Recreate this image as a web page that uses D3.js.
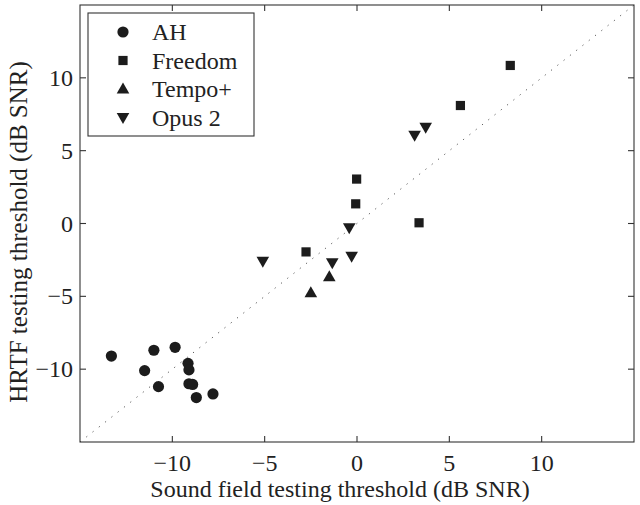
<!DOCTYPE html>
<html><head><meta charset="utf-8">
<script src="https://cdn.jsdelivr.net/npm/d3@7"></script>
<style>body{margin:0;background:#fff}svg{display:block}text{font-family:"Liberation Serif","Times New Roman",serif;fill:#222}</style>
</head><body><svg id="c" width="640" height="505"></svg>
<script>
const xTicks=[-10,-5,0,5,10];
const yTicks=[-10,-5,0,5,10];
const xDomain=[-15,15], yDomain=[-15,15];
const seriesNames=["AH","Freedom","Tempo+","Opus 2"];
const seriesShapes=["circle","square","up","down"];
const ahX=[-13.3,-11.0,-9.85,-11.5,-9.15,-9.1,-10.75,-9.1,-8.9,-8.7,-7.8];
const ahY=[-9.1,-8.7,-8.5,-10.1,-9.6,-10.05,-11.2,-11.0,-11.05,-11.95,-11.7];
const freedomX=[-0.02,-0.07,3.36,-2.76,8.3,5.6];
const freedomY=[3.05,1.35,0.05,-1.95,10.85,8.1];
const tempoX=[-1.5,-2.5];
const tempoY=[-3.65,-4.75];
const opusX=[-5.1,-0.42,-1.34,-0.29,3.12,3.72];
const opusY=[-2.6,-0.3,-2.7,-2.25,6.05,6.6];
const seriesX=[ahX,freedomX,tempoX,opusX];
const seriesY=[ahY,freedomY,tempoY,opusY];

const svg=d3.select("#c");
const L=80,R=634,T=5,B=442;
const x=d3.scaleLinear().domain(xDomain).range([L,R]);
const y=d3.scaleLinear().domain(yDomain).range([B,T]);
const ink="#1c1c1c";

svg.append("line").attr("x1",x(xDomain[0])).attr("y1",y(yDomain[0])).attr("x2",x(xDomain[1])).attr("y2",y(yDomain[1]))
  .attr("stroke","#555").attr("stroke-width",1).attr("stroke-dasharray","1.2,6.8");

const ax=svg.append("g").attr("stroke","#333").attr("stroke-width",1.1).attr("fill","none");
ax.append("rect").attr("x",L).attr("y",T).attr("width",R-L).attr("height",B-T);
xTicks.forEach(t=>{
  ax.append("line").attr("x1",x(t)).attr("x2",x(t)).attr("y1",B).attr("y2",B-6);
  ax.append("line").attr("x1",x(t)).attr("x2",x(t)).attr("y1",T).attr("y2",T+6);
});
yTicks.forEach(t=>{
  ax.append("line").attr("y1",y(t)).attr("y2",y(t)).attr("x1",L).attr("x2",L+6);
  ax.append("line").attr("y1",y(t)).attr("y2",y(t)).attr("x1",R).attr("x2",R-6);
});
const fmt=v=>v<0?"\u2212"+Math.abs(v):String(v);
svg.selectAll(".xt").data(xTicks).enter().append("text").attr("x",d=>x(d)).attr("y",471)
  .attr("text-anchor","middle").attr("font-size",24).text(fmt);
svg.selectAll(".yt").data(yTicks).enter().append("text").attr("x",73).attr("y",d=>y(d)+8)
  .attr("text-anchor","end").attr("font-size",24).text(fmt);
svg.append("text").attr("x",340).attr("y",497).attr("text-anchor","middle").attr("font-size",24)
  .text("Sound field testing threshold (dB SNR)");
svg.append("text").attr("transform","translate(27,232) rotate(-90)").attr("text-anchor","middle").attr("font-size",25)
  .text("HRTF testing threshold (dB SNR)");

function marker(g,shape){
  if(shape==="circle") g.append("circle").attr("r",5.6);
  else if(shape==="square") g.append("rect").attr("x",-4.6).attr("y",-4.6).attr("width",9.2).attr("height",9.2);
  else if(shape==="up") g.append("path").attr("d","M0,-6.5L6.3,4.5L-6.3,4.5Z");
  else g.append("path").attr("d","M0,6.5L6.3,-4.5L-6.3,-4.5Z");
}
seriesNames.forEach((n,i)=>{
  const pts=seriesX[i].map((v,j)=>[v,seriesY[i][j]]);
  const g=svg.append("g").attr("fill",ink);
  pts.forEach(p=>{marker(g.append("g").attr("transform",`translate(${x(p[0])},${y(p[1])})`),seriesShapes[i]);});
});

const lg=svg.append("g");
lg.append("rect").attr("x",88).attr("y",13).attr("width",166).attr("height",123).attr("fill","#fff").attr("stroke","#333").attr("stroke-width",1.1);
seriesNames.forEach((n,i)=>{
  const cy=32+i*28.5;
  const m=lg.append("g").attr("fill",ink).attr("transform",`translate(123,${cy})`);
  marker(m,seriesShapes[i]);
  lg.append("text").attr("x",152).attr("y",cy+8).attr("font-size",24).text(n);
});
</script></body></html>
